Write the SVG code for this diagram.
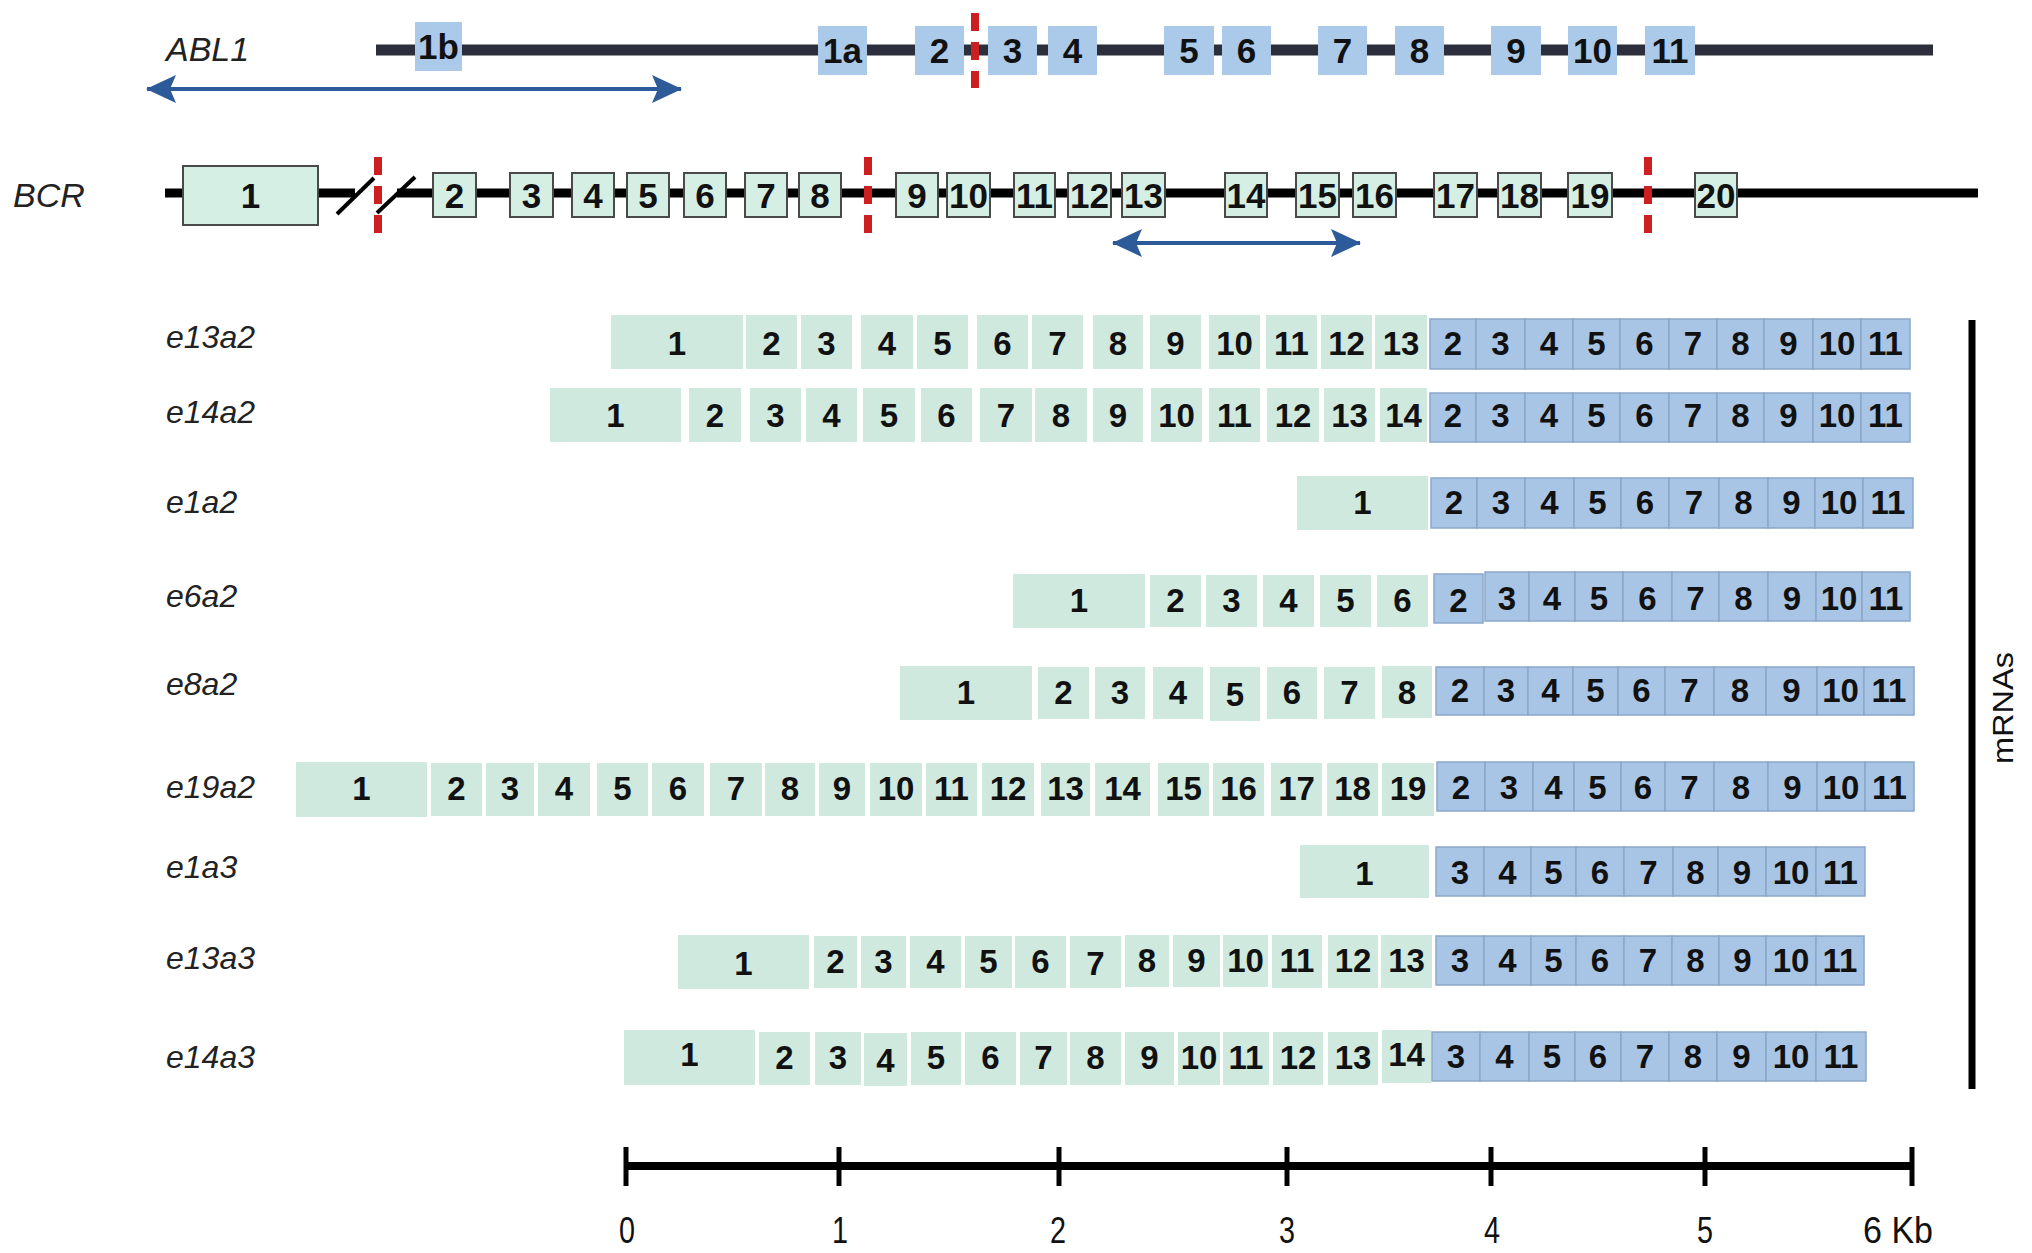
<svg xmlns="http://www.w3.org/2000/svg" width="2032" height="1253" viewBox="0 0 2032 1253">
<style>
.lbl{font-family:"Liberation Sans",Arial,sans-serif;font-style:italic;font-size:32px;fill:#222}
.gl{font-family:"Liberation Sans",Arial,sans-serif;font-style:italic;font-size:34px;fill:#222}
.n{font-family:"Liberation Sans",Arial,sans-serif;font-weight:bold;font-size:33px;text-anchor:middle;fill:#111}
.na{font-family:"Liberation Sans",Arial,sans-serif;font-weight:bold;font-size:35px;text-anchor:middle;fill:#111}
.sc{font-family:"Liberation Sans",Arial,sans-serif;font-size:36px;text-anchor:middle;fill:#111}
.ab{fill:#abc9e9}
.bc{fill:#d6efe4;stroke:#4a4a4a;stroke-width:2}
.m{fill:#cfe9df}
.b{fill:#a9c5e6;stroke:#8ba6c9;stroke-width:1.5}
.red{stroke:#cc2020;stroke-width:8;stroke-dasharray:18 11;fill:none}
.arr{stroke:#2d5a98;stroke-width:4;fill:none;marker-start:url(#ah);marker-end:url(#ah)}
.sl{stroke:#000;stroke-width:4}
</style>
<defs>
<marker id="ah" markerUnits="userSpaceOnUse" markerWidth="30" markerHeight="30" viewBox="0 0 30 30" refX="29" refY="15" orient="auto-start-reverse">
<path d="M0,1 L30,15 L0,29 L6,15 Z" fill="#2d5a98"/>
</marker>
</defs>
<rect width="2032" height="1253" fill="#fff"/>

<g id="ABL1">
<text class="gl" x="166" y="61">ABL1</text>
<line x1="376" y1="50" x2="1933" y2="50" stroke="#2c2f3b" stroke-width="11"/>
<g id="abl1-1b"><rect class="ab" x="415" y="22" width="47" height="49"/><text class="na" x="438.5" y="59">1b</text></g>
<g id="abl1-1a"><rect class="ab" x="818" y="26" width="49" height="49"/><text class="na" x="842.5" y="63">1a</text></g>
<g id="abl1-2"><rect class="ab" x="915" y="26" width="49" height="49"/><text class="na" x="939.5" y="63">2</text></g>
<g id="abl1-3"><rect class="ab" x="988" y="26" width="49" height="49"/><text class="na" x="1012.5" y="63">3</text></g>
<g id="abl1-4"><rect class="ab" x="1048" y="26" width="49" height="49"/><text class="na" x="1072.5" y="63">4</text></g>
<g id="abl1-5"><rect class="ab" x="1164" y="26" width="50" height="49"/><text class="na" x="1189" y="63">5</text></g>
<g id="abl1-6"><rect class="ab" x="1222" y="26" width="49" height="49"/><text class="na" x="1246.5" y="63">6</text></g>
<g id="abl1-7"><rect class="ab" x="1318" y="26" width="49" height="49"/><text class="na" x="1342.5" y="63">7</text></g>
<g id="abl1-8"><rect class="ab" x="1395" y="26" width="49" height="49"/><text class="na" x="1419.5" y="63">8</text></g>
<g id="abl1-9"><rect class="ab" x="1491" y="26" width="50" height="49"/><text class="na" x="1516" y="63">9</text></g>
<g id="abl1-10"><rect class="ab" x="1568" y="26" width="49" height="49"/><text class="na" x="1592.5" y="63">10</text></g>
<g id="abl1-11"><rect class="ab" x="1645" y="26" width="50" height="49"/><text class="na" x="1670" y="63">11</text></g>
<line class="red" x1="975" y1="13" x2="975" y2="88"/>
</g>

<g id="BCR">
<text class="gl" x="13" y="207">BCR</text>
<line x1="165" y1="193" x2="355" y2="193" stroke="#000" stroke-width="9"/>
<line x1="397" y1="193" x2="1978" y2="193" stroke="#000" stroke-width="9"/>
<line class="sl" x1="337" y1="214" x2="374" y2="178"/>
<line class="sl" x1="377" y1="213" x2="415" y2="177"/>
<g id="bcr-1"><rect class="bc" x="183" y="166" width="135" height="59"/><text class="na" x="250.5" y="208">1</text></g>
<g id="bcr-2"><rect class="bc" x="433" y="173" width="43" height="44"/><text class="na" x="454.5" y="208">2</text></g>
<g id="bcr-3"><rect class="bc" x="510" y="173" width="43" height="44"/><text class="na" x="531.5" y="208">3</text></g>
<g id="bcr-4"><rect class="bc" x="572" y="173" width="42" height="44"/><text class="na" x="593" y="208">4</text></g>
<g id="bcr-5"><rect class="bc" x="627" y="173" width="42" height="44"/><text class="na" x="648" y="208">5</text></g>
<g id="bcr-6"><rect class="bc" x="684" y="173" width="42" height="44"/><text class="na" x="705" y="208">6</text></g>
<g id="bcr-7"><rect class="bc" x="745" y="173" width="42" height="44"/><text class="na" x="766" y="208">7</text></g>
<g id="bcr-8"><rect class="bc" x="799" y="173" width="42" height="44"/><text class="na" x="820" y="208">8</text></g>
<g id="bcr-9"><rect class="bc" x="896" y="173" width="42" height="44"/><text class="na" x="917" y="208">9</text></g>
<g id="bcr-10"><rect class="bc" x="947" y="173" width="43" height="44"/><text class="na" x="968.5" y="208">10</text></g>
<g id="bcr-11"><rect class="bc" x="1014" y="173" width="41" height="44"/><text class="na" x="1034.5" y="208">11</text></g>
<g id="bcr-12"><rect class="bc" x="1068" y="173" width="43" height="44"/><text class="na" x="1089.5" y="208">12</text></g>
<g id="bcr-13"><rect class="bc" x="1122" y="173" width="43" height="44"/><text class="na" x="1143.5" y="208">13</text></g>
<g id="bcr-14"><rect class="bc" x="1225" y="173" width="42" height="44"/><text class="na" x="1246" y="208">14</text></g>
<g id="bcr-15"><rect class="bc" x="1296" y="173" width="43" height="44"/><text class="na" x="1317.5" y="208">15</text></g>
<g id="bcr-16"><rect class="bc" x="1353" y="173" width="43" height="44"/><text class="na" x="1374.5" y="208">16</text></g>
<g id="bcr-17"><rect class="bc" x="1434" y="173" width="43" height="44"/><text class="na" x="1455.5" y="208">17</text></g>
<g id="bcr-18"><rect class="bc" x="1498" y="173" width="43" height="44"/><text class="na" x="1519.5" y="208">18</text></g>
<g id="bcr-19"><rect class="bc" x="1568" y="173" width="44" height="44"/><text class="na" x="1590" y="208">19</text></g>
<g id="bcr-20"><rect class="bc" x="1695" y="173" width="42" height="44"/><text class="na" x="1716" y="208">20</text></g>
<line class="red" x1="378" y1="157" x2="378" y2="233"/>
<line class="red" x1="868" y1="157" x2="868" y2="233"/>
<line class="red" x1="1648" y1="157" x2="1648" y2="233"/>
</g>

<g id="connectors">
<line class="arr" x1="147" y1="89" x2="681" y2="89"/>
<line class="arr" x1="1113" y1="243" x2="1360" y2="243"/>
</g>

<g id="e13a2">
<text class="lbl" x="166" y="348">e13a2</text>
<rect class="m" x="611" y="315" width="132" height="54"/><text class="n" x="677" y="355">1</text>
<rect class="m" x="746" y="315" width="51" height="54"/><text class="n" x="771.5" y="355">2</text>
<rect class="m" x="801" y="315" width="51" height="54"/><text class="n" x="826.5" y="355">3</text>
<rect class="m" x="861" y="315" width="52" height="54"/><text class="n" x="887" y="355">4</text>
<rect class="m" x="917" y="315" width="51" height="54"/><text class="n" x="942.5" y="355">5</text>
<rect class="m" x="977" y="315" width="51" height="54"/><text class="n" x="1002.5" y="355">6</text>
<rect class="m" x="1032" y="315" width="51" height="54"/><text class="n" x="1057.5" y="355">7</text>
<rect class="m" x="1093" y="315" width="50" height="54"/><text class="n" x="1118" y="355">8</text>
<rect class="m" x="1150" y="315" width="51" height="54"/><text class="n" x="1175.5" y="355">9</text>
<rect class="m" x="1209" y="315" width="51" height="54"/><text class="n" x="1234.5" y="355">10</text>
<rect class="m" x="1266" y="315" width="51" height="54"/><text class="n" x="1291.5" y="355">11</text>
<rect class="m" x="1321" y="315" width="51" height="54"/><text class="n" x="1346.5" y="355">12</text>
<rect class="m" x="1375" y="315" width="52" height="54"/><text class="n" x="1401" y="355">13</text>
<rect class="b" x="1430" y="319" width="46" height="50"/><text class="n" x="1453" y="355">2</text>
<rect class="b" x="1476" y="319" width="49" height="50"/><text class="n" x="1500.5" y="355">3</text>
<rect class="b" x="1525" y="319" width="48" height="50"/><text class="n" x="1549" y="355">4</text>
<rect class="b" x="1573" y="319" width="47" height="50"/><text class="n" x="1596.5" y="355">5</text>
<rect class="b" x="1620" y="319" width="49" height="50"/><text class="n" x="1644.5" y="355">6</text>
<rect class="b" x="1669" y="319" width="48" height="50"/><text class="n" x="1693" y="355">7</text>
<rect class="b" x="1717" y="319" width="47" height="50"/><text class="n" x="1740.5" y="355">8</text>
<rect class="b" x="1764" y="319" width="49" height="50"/><text class="n" x="1788.5" y="355">9</text>
<rect class="b" x="1813" y="319" width="48" height="50"/><text class="n" x="1837" y="355">10</text>
<rect class="b" x="1861" y="319" width="49" height="50"/><text class="n" x="1885.5" y="355">11</text>
</g>

<g id="e14a2">
<text class="lbl" x="166" y="423">e14a2</text>
<rect class="m" x="550" y="388" width="131" height="54"/><text class="n" x="615.5" y="427">1</text>
<rect class="m" x="689" y="388" width="52" height="54"/><text class="n" x="715" y="427">2</text>
<rect class="m" x="750" y="388" width="51" height="54"/><text class="n" x="775.5" y="427">3</text>
<rect class="m" x="806" y="388" width="51" height="54"/><text class="n" x="831.5" y="427">4</text>
<rect class="m" x="863" y="388" width="52" height="54"/><text class="n" x="889" y="427">5</text>
<rect class="m" x="921" y="388" width="51" height="54"/><text class="n" x="946.5" y="427">6</text>
<rect class="m" x="980" y="388" width="52" height="54"/><text class="n" x="1006" y="427">7</text>
<rect class="m" x="1035" y="388" width="52" height="54"/><text class="n" x="1061" y="427">8</text>
<rect class="m" x="1093" y="388" width="50" height="54"/><text class="n" x="1118" y="427">9</text>
<rect class="m" x="1151" y="388" width="51" height="54"/><text class="n" x="1176.5" y="427">10</text>
<rect class="m" x="1209" y="388" width="51" height="54"/><text class="n" x="1234.5" y="427">11</text>
<rect class="m" x="1267" y="388" width="52" height="54"/><text class="n" x="1293" y="427">12</text>
<rect class="m" x="1324" y="388" width="51" height="54"/><text class="n" x="1349.5" y="427">13</text>
<rect class="m" x="1380" y="388" width="47" height="54"/><text class="n" x="1403.5" y="427">14</text>
<rect class="b" x="1430" y="393" width="46" height="49"/><text class="n" x="1453" y="427">2</text>
<rect class="b" x="1476" y="393" width="49" height="49"/><text class="n" x="1500.5" y="427">3</text>
<rect class="b" x="1525" y="393" width="48" height="49"/><text class="n" x="1549" y="427">4</text>
<rect class="b" x="1573" y="393" width="47" height="49"/><text class="n" x="1596.5" y="427">5</text>
<rect class="b" x="1620" y="393" width="49" height="49"/><text class="n" x="1644.5" y="427">6</text>
<rect class="b" x="1669" y="393" width="48" height="49"/><text class="n" x="1693" y="427">7</text>
<rect class="b" x="1717" y="393" width="47" height="49"/><text class="n" x="1740.5" y="427">8</text>
<rect class="b" x="1764" y="393" width="49" height="49"/><text class="n" x="1788.5" y="427">9</text>
<rect class="b" x="1813" y="393" width="48" height="49"/><text class="n" x="1837" y="427">10</text>
<rect class="b" x="1861" y="393" width="49" height="49"/><text class="n" x="1885.5" y="427">11</text>
</g>

<g id="e1a2">
<text class="lbl" x="166" y="513">e1a2</text>
<rect class="m" x="1297" y="476" width="131" height="54"/><text class="n" x="1362.5" y="514">1</text>
<rect class="b" x="1431" y="478" width="46" height="50"/><text class="n" x="1454" y="514">2</text>
<rect class="b" x="1477" y="478" width="48" height="50"/><text class="n" x="1501" y="514">3</text>
<rect class="b" x="1525" y="478" width="49" height="50"/><text class="n" x="1549.5" y="514">4</text>
<rect class="b" x="1574" y="478" width="47" height="50"/><text class="n" x="1597.5" y="514">5</text>
<rect class="b" x="1621" y="478" width="48" height="50"/><text class="n" x="1645" y="514">6</text>
<rect class="b" x="1669" y="478" width="50" height="50"/><text class="n" x="1694" y="514">7</text>
<rect class="b" x="1719" y="478" width="49" height="50"/><text class="n" x="1743.5" y="514">8</text>
<rect class="b" x="1768" y="478" width="47" height="50"/><text class="n" x="1791.5" y="514">9</text>
<rect class="b" x="1815" y="478" width="48" height="50"/><text class="n" x="1839" y="514">10</text>
<rect class="b" x="1863" y="478" width="50" height="50"/><text class="n" x="1888" y="514">11</text>
</g>

<g id="e6a2">
<text class="lbl" x="166" y="607">e6a2</text>
<rect class="m" x="1013" y="574" width="132" height="54"/><text class="n" x="1079" y="612">1</text>
<rect class="m" x="1150" y="575" width="51" height="52"/><text class="n" x="1175.5" y="612">2</text>
<rect class="m" x="1206" y="575" width="51" height="52"/><text class="n" x="1231.5" y="612">3</text>
<rect class="m" x="1263" y="575" width="51" height="52"/><text class="n" x="1288.5" y="612">4</text>
<rect class="m" x="1320" y="575" width="51" height="52"/><text class="n" x="1345.5" y="612">5</text>
<rect class="m" x="1377" y="575" width="51" height="52"/><text class="n" x="1402.5" y="612">6</text>
<rect class="b" x="1434" y="574" width="49" height="49"/><text class="n" x="1458.5" y="612">2</text>
<rect class="b" x="1485" y="572" width="44" height="49"/><text class="n" x="1507" y="610">3</text>
<rect class="b" x="1529" y="572" width="46" height="49"/><text class="n" x="1552" y="610">4</text>
<rect class="b" x="1575" y="572" width="48" height="49"/><text class="n" x="1599" y="610">5</text>
<rect class="b" x="1623" y="572" width="49" height="49"/><text class="n" x="1647.5" y="610">6</text>
<rect class="b" x="1672" y="572" width="47" height="49"/><text class="n" x="1695.5" y="610">7</text>
<rect class="b" x="1719" y="572" width="49" height="49"/><text class="n" x="1743.5" y="610">8</text>
<rect class="b" x="1768" y="572" width="48" height="49"/><text class="n" x="1792" y="610">9</text>
<rect class="b" x="1816" y="572" width="46" height="49"/><text class="n" x="1839" y="610">10</text>
<rect class="b" x="1862" y="572" width="48" height="49"/><text class="n" x="1886" y="610">11</text>
</g>

<g id="e8a2">
<text class="lbl" x="166" y="695">e8a2</text>
<rect class="m" x="900" y="666" width="132" height="54"/><text class="n" x="966" y="704">1</text>
<rect class="m" x="1038" y="667" width="51" height="52"/><text class="n" x="1063.5" y="704">2</text>
<rect class="m" x="1095" y="667" width="50" height="52"/><text class="n" x="1120" y="704">3</text>
<rect class="m" x="1153" y="667" width="50" height="52"/><text class="n" x="1178" y="704">4</text>
<rect class="m" x="1210" y="667" width="50" height="54"/><text class="n" x="1235" y="706">5</text>
<rect class="m" x="1267" y="667" width="50" height="52"/><text class="n" x="1292" y="704">6</text>
<rect class="m" x="1324" y="667" width="51" height="52"/><text class="n" x="1349.5" y="704">7</text>
<rect class="m" x="1382" y="666" width="50" height="52"/><text class="n" x="1407" y="704">8</text>
<rect class="b" x="1436" y="667" width="48" height="48"/><text class="n" x="1460" y="702">2</text>
<rect class="b" x="1484" y="667" width="44" height="48"/><text class="n" x="1506" y="702">3</text>
<rect class="b" x="1528" y="667" width="45" height="48"/><text class="n" x="1550.5" y="702">4</text>
<rect class="b" x="1573" y="667" width="45" height="48"/><text class="n" x="1595.5" y="702">5</text>
<rect class="b" x="1618" y="667" width="47" height="48"/><text class="n" x="1641.5" y="702">6</text>
<rect class="b" x="1665" y="667" width="49" height="48"/><text class="n" x="1689.5" y="702">7</text>
<rect class="b" x="1714" y="667" width="52" height="48"/><text class="n" x="1740" y="702">8</text>
<rect class="b" x="1766" y="667" width="51" height="48"/><text class="n" x="1791.5" y="702">9</text>
<rect class="b" x="1817" y="667" width="47" height="48"/><text class="n" x="1840.5" y="702">10</text>
<rect class="b" x="1864" y="667" width="50" height="48"/><text class="n" x="1889" y="702">11</text>
</g>

<g id="e19a2">
<text class="lbl" x="166" y="798">e19a2</text>
<rect class="m" x="296" y="762" width="131" height="55"/><text class="n" x="361.5" y="800">1</text>
<rect class="m" x="431" y="763" width="51" height="53"/><text class="n" x="456.5" y="800">2</text>
<rect class="m" x="486" y="763" width="48" height="53"/><text class="n" x="510" y="800">3</text>
<rect class="m" x="538" y="763" width="52" height="53"/><text class="n" x="564" y="800">4</text>
<rect class="m" x="597" y="763" width="51" height="53"/><text class="n" x="622.5" y="800">5</text>
<rect class="m" x="652" y="763" width="52" height="53"/><text class="n" x="678" y="800">6</text>
<rect class="m" x="710" y="763" width="52" height="53"/><text class="n" x="736" y="800">7</text>
<rect class="m" x="765" y="763" width="50" height="53"/><text class="n" x="790" y="800">8</text>
<rect class="m" x="819" y="763" width="46" height="53"/><text class="n" x="842" y="800">9</text>
<rect class="m" x="870" y="763" width="52" height="53"/><text class="n" x="896" y="800">10</text>
<rect class="m" x="926" y="763" width="51" height="53"/><text class="n" x="951.5" y="800">11</text>
<rect class="m" x="982" y="763" width="52" height="53"/><text class="n" x="1008" y="800">12</text>
<rect class="m" x="1041" y="763" width="49" height="53"/><text class="n" x="1065.5" y="800">13</text>
<rect class="m" x="1095" y="763" width="55" height="53"/><text class="n" x="1122.5" y="800">14</text>
<rect class="m" x="1158" y="763" width="51" height="53"/><text class="n" x="1183.5" y="800">15</text>
<rect class="m" x="1213" y="763" width="51" height="53"/><text class="n" x="1238.5" y="800">16</text>
<rect class="m" x="1271" y="763" width="51" height="53"/><text class="n" x="1296.5" y="800">17</text>
<rect class="m" x="1327" y="763" width="51" height="53"/><text class="n" x="1352.5" y="800">18</text>
<rect class="m" x="1382" y="763" width="52" height="53"/><text class="n" x="1408" y="800">19</text>
<rect class="b" x="1437" y="762" width="48" height="49"/><text class="n" x="1461" y="799">2</text>
<rect class="b" x="1485" y="762" width="48" height="49"/><text class="n" x="1509" y="799">3</text>
<rect class="b" x="1533" y="762" width="41" height="49"/><text class="n" x="1553.5" y="799">4</text>
<rect class="b" x="1574" y="762" width="47" height="49"/><text class="n" x="1597.5" y="799">5</text>
<rect class="b" x="1621" y="762" width="44" height="49"/><text class="n" x="1643" y="799">6</text>
<rect class="b" x="1665" y="762" width="49" height="49"/><text class="n" x="1689.5" y="799">7</text>
<rect class="b" x="1714" y="762" width="54" height="49"/><text class="n" x="1741" y="799">8</text>
<rect class="b" x="1768" y="762" width="49" height="49"/><text class="n" x="1792.5" y="799">9</text>
<rect class="b" x="1817" y="762" width="48" height="49"/><text class="n" x="1841" y="799">10</text>
<rect class="b" x="1865" y="762" width="49" height="49"/><text class="n" x="1889.5" y="799">11</text>
</g>

<g id="e1a3">
<text class="lbl" x="166" y="878">e1a3</text>
<rect class="m" x="1300" y="845" width="129" height="53"/><text class="n" x="1364.5" y="885">1</text>
<rect class="b" x="1436" y="847" width="48" height="49"/><text class="n" x="1460" y="884">3</text>
<rect class="b" x="1484" y="847" width="47" height="49"/><text class="n" x="1507.5" y="884">4</text>
<rect class="b" x="1531" y="847" width="45" height="49"/><text class="n" x="1553.5" y="884">5</text>
<rect class="b" x="1576" y="847" width="48" height="49"/><text class="n" x="1600" y="884">6</text>
<rect class="b" x="1624" y="847" width="49" height="49"/><text class="n" x="1648.5" y="884">7</text>
<rect class="b" x="1673" y="847" width="45" height="49"/><text class="n" x="1695.5" y="884">8</text>
<rect class="b" x="1718" y="847" width="48" height="49"/><text class="n" x="1742" y="884">9</text>
<rect class="b" x="1766" y="847" width="50" height="49"/><text class="n" x="1791" y="884">10</text>
<rect class="b" x="1816" y="847" width="49" height="49"/><text class="n" x="1840.5" y="884">11</text>
</g>

<g id="e13a3">
<text class="lbl" x="166" y="969">e13a3</text>
<rect class="m" x="678" y="935" width="131" height="54"/><text class="n" x="743.5" y="975">1</text>
<rect class="m" x="814" y="936" width="43" height="52"/><text class="n" x="835.5" y="973">2</text>
<rect class="m" x="861" y="936" width="45" height="52"/><text class="n" x="883.5" y="973">3</text>
<rect class="m" x="910" y="936" width="51" height="52"/><text class="n" x="935.5" y="973">4</text>
<rect class="m" x="965" y="936" width="47" height="52"/><text class="n" x="988.5" y="973">5</text>
<rect class="m" x="1015" y="936" width="51" height="52"/><text class="n" x="1040.5" y="973">6</text>
<rect class="m" x="1070" y="936" width="51" height="52"/><text class="n" x="1095.5" y="975">7</text>
<rect class="m" x="1125" y="935" width="44" height="52"/><text class="n" x="1147" y="972">8</text>
<rect class="m" x="1173" y="935" width="47" height="52"/><text class="n" x="1196.5" y="972">9</text>
<rect class="m" x="1223" y="935" width="45" height="52"/><text class="n" x="1245.5" y="972">10</text>
<rect class="m" x="1272" y="935" width="50" height="53"/><text class="n" x="1297" y="972">11</text>
<rect class="m" x="1328" y="935" width="50" height="53"/><text class="n" x="1353" y="972">12</text>
<rect class="m" x="1381" y="935" width="51" height="53"/><text class="n" x="1406.5" y="972">13</text>
<rect class="b" x="1436" y="936" width="48" height="49"/><text class="n" x="1460" y="972">3</text>
<rect class="b" x="1484" y="936" width="47" height="49"/><text class="n" x="1507.5" y="972">4</text>
<rect class="b" x="1531" y="936" width="45" height="49"/><text class="n" x="1553.5" y="972">5</text>
<rect class="b" x="1576" y="936" width="48" height="49"/><text class="n" x="1600" y="972">6</text>
<rect class="b" x="1624" y="936" width="48" height="49"/><text class="n" x="1648" y="972">7</text>
<rect class="b" x="1672" y="936" width="47" height="49"/><text class="n" x="1695.5" y="972">8</text>
<rect class="b" x="1719" y="936" width="47" height="49"/><text class="n" x="1742.5" y="972">9</text>
<rect class="b" x="1766" y="936" width="50" height="49"/><text class="n" x="1791" y="972">10</text>
<rect class="b" x="1816" y="936" width="48" height="49"/><text class="n" x="1840" y="972">11</text>
</g>

<g id="e14a3">
<text class="lbl" x="166" y="1068">e14a3</text>
<rect class="m" x="624" y="1030" width="131" height="55"/><text class="n" x="689.5" y="1066">1</text>
<rect class="m" x="759" y="1032" width="51" height="53"/><text class="n" x="784.5" y="1069">2</text>
<rect class="m" x="815" y="1032" width="46" height="53"/><text class="n" x="838" y="1069">3</text>
<rect class="m" x="864" y="1033" width="43" height="53"/><text class="n" x="885.5" y="1072">4</text>
<rect class="m" x="911" y="1032" width="50" height="53"/><text class="n" x="936" y="1069">5</text>
<rect class="m" x="965" y="1032" width="51" height="53"/><text class="n" x="990.5" y="1069">6</text>
<rect class="m" x="1020" y="1032" width="47" height="53"/><text class="n" x="1043.5" y="1069">7</text>
<rect class="m" x="1070" y="1032" width="51" height="53"/><text class="n" x="1095.5" y="1069">8</text>
<rect class="m" x="1125" y="1032" width="49" height="53"/><text class="n" x="1149.5" y="1069">9</text>
<rect class="m" x="1178" y="1032" width="42" height="53"/><text class="n" x="1199" y="1069">10</text>
<rect class="m" x="1223" y="1032" width="46" height="53"/><text class="n" x="1246" y="1069">11</text>
<rect class="m" x="1273" y="1032" width="50" height="53"/><text class="n" x="1298" y="1069">12</text>
<rect class="m" x="1328" y="1032" width="50" height="53"/><text class="n" x="1353" y="1069">13</text>
<rect class="m" x="1382" y="1030" width="49" height="53"/><text class="n" x="1406.5" y="1066">14</text>
<rect class="b" x="1432" y="1032" width="48" height="49"/><text class="n" x="1456" y="1068">3</text>
<rect class="b" x="1480" y="1032" width="49" height="49"/><text class="n" x="1504.5" y="1068">4</text>
<rect class="b" x="1529" y="1032" width="46" height="49"/><text class="n" x="1552" y="1068">5</text>
<rect class="b" x="1575" y="1032" width="46" height="49"/><text class="n" x="1598" y="1068">6</text>
<rect class="b" x="1621" y="1032" width="48" height="49"/><text class="n" x="1645" y="1068">7</text>
<rect class="b" x="1669" y="1032" width="48" height="49"/><text class="n" x="1693" y="1068">8</text>
<rect class="b" x="1717" y="1032" width="49" height="49"/><text class="n" x="1741.5" y="1068">9</text>
<rect class="b" x="1766" y="1032" width="50" height="49"/><text class="n" x="1791" y="1068">10</text>
<rect class="b" x="1816" y="1032" width="50" height="49"/><text class="n" x="1841" y="1068">11</text>
</g>

<g id="mRNAs-bracket">
<line x1="1972" y1="320" x2="1972" y2="1089" stroke="#000" stroke-width="7"/>
<text font-family="Liberation Sans, Arial, sans-serif" font-size="30" fill="#111" text-anchor="middle" textLength="112" lengthAdjust="spacingAndGlyphs" transform="translate(2013,708) rotate(-90)">mRNAs</text>
</g>

<g id="scale">
<line x1="626" y1="1166" x2="1912" y2="1166" stroke="#000" stroke-width="8"/>
<g stroke="#000" stroke-width="5">
<line x1="626" y1="1147" x2="626" y2="1186"/>
<line x1="839" y1="1147" x2="839" y2="1186"/>
<line x1="1059" y1="1147" x2="1059" y2="1186"/>
<line x1="1287" y1="1147" x2="1287" y2="1186"/>
<line x1="1491" y1="1147" x2="1491" y2="1186"/>
<line x1="1705" y1="1147" x2="1705" y2="1186"/>
<line x1="1912" y1="1147" x2="1912" y2="1186"/>
</g>
<text class="sc" x="627" y="1243" textLength="16" lengthAdjust="spacingAndGlyphs">0</text>
<text class="sc" x="840" y="1243" textLength="16" lengthAdjust="spacingAndGlyphs">1</text>
<text class="sc" x="1058" y="1243" textLength="16" lengthAdjust="spacingAndGlyphs">2</text>
<text class="sc" x="1287" y="1243" textLength="16" lengthAdjust="spacingAndGlyphs">3</text>
<text class="sc" x="1492" y="1243" textLength="16" lengthAdjust="spacingAndGlyphs">4</text>
<text class="sc" x="1705" y="1243" textLength="16" lengthAdjust="spacingAndGlyphs">5</text>
<text class="sc" x="1898" y="1243" text-anchor="start" textLength="70" lengthAdjust="spacingAndGlyphs">6 Kb</text>
</g>
</svg>
